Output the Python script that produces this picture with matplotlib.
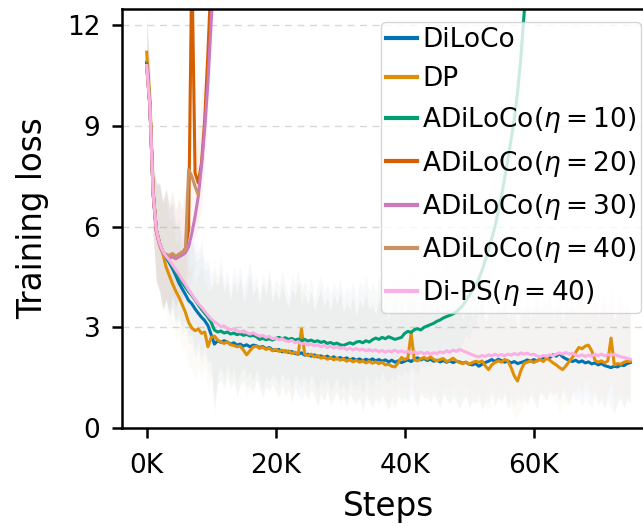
import numpy as np
import matplotlib
matplotlib.use("Agg")
import matplotlib.pyplot as plt
from matplotlib.ticker import FuncFormatter

# ---------------- data (loss sampled every 500 steps) ----------------
step_k = np.arange(0, 75.01, 0.5)          # thousand steps
steps = step_k * 1000

diloco = [
10.9, 9.6, 7.0, 5.9, 5.5, 5.25, 5.08, 4.93, 4.75, 4.55,
4.32, 4.15, 3.98, 3.8, 3.7, 3.55, 3.42, 3.3, 3.2, 3.05,
2.78, 2.5, 2.6, 2.55, 2.6, 2.56, 2.5, 2.54, 2.47, 2.5,
2.44, 2.48, 2.42, 2.47, 2.45, 2.4, 2.43, 2.36, 2.4, 2.33,
2.31, 2.34, 2.27, 2.3, 2.25, 2.28, 2.22, 2.2, 2.24, 2.17,
2.2, 2.14, 2.18, 2.12, 2.15, 2.1, 2.14, 2.08, 2.12, 2.06,
2.1, 2.05, 2.09, 2.03, 2.07, 2.02, 2.06, 2.0, 2.05, 2.01,
2.06, 2.0, 2.04, 1.99, 2.03, 1.97, 2.02, 1.96, 2.0, 1.95,
1.99, 2.03, 1.98, 2.05, 2.09, 2.03, 2.07, 2.01, 2.05, 1.99,
2.02, 1.97, 2.01, 1.96, 2.0, 1.95, 1.99, 1.97, 1.93, 1.96,
1.9, 1.88, 1.92, 1.84, 1.9, 1.95, 1.99, 2.04, 1.98, 2.05,
2.01, 1.96, 2.0, 1.94, 1.98, 1.92, 1.95, 1.98, 2.03, 1.99,
2.04, 2.0, 2.05, 2.09, 2.14, 2.1, 2.18, 2.14, 2.22, 2.12,
2.06, 2.02, 1.98, 2.02, 1.96, 2.0, 1.94, 1.97, 1.91, 1.94,
1.88, 1.92, 1.86, 1.83, 1.8, 1.84, 1.82, 1.88, 1.86, 1.92, 1.95]

dp = [
11.2, 9.8, 7.1, 5.85, 5.45, 5.2, 4.8, 4.55, 4.3, 4.08,
3.9, 3.68, 3.45, 3.15, 2.98, 2.9, 2.95, 2.82, 2.86, 2.42,
2.7, 2.74, 2.62, 2.56, 2.52, 2.57, 2.48, 2.46, 2.42, 2.44,
2.32, 2.18, 2.3, 2.41, 2.44, 2.37, 2.41, 2.34, 2.38, 2.3,
2.34, 2.28, 2.32, 2.26, 2.3, 2.22, 2.26, 2.2, 2.95, 2.2,
2.16, 2.2, 2.12, 2.16, 2.08, 2.12, 2.05, 2.1, 2.03, 2.08,
2.02, 2.06, 1.99, 2.04, 1.97, 2.02, 1.96, 2.0, 1.94, 1.99,
1.93, 1.97, 1.92, 1.96, 1.88, 1.9, 1.84, 1.82, 1.95, 2.1,
2.04, 2.08, 2.82, 2.03, 2.0, 2.06, 2.1, 2.05, 2.12, 2.04,
2.0, 2.04, 2.07, 1.98, 2.02, 2.08, 2.0, 1.95, 1.92, 1.96,
1.9, 1.95, 1.99, 1.96, 2.0, 1.85, 1.74, 1.88, 1.95, 2.0,
1.96, 2.04, 2.0, 1.8, 1.55, 1.4, 1.7, 1.92, 1.96, 2.0,
1.95, 2.0, 2.04, 1.98, 2.08, 2.02, 1.94, 1.88, 1.8, 1.74,
1.85, 1.98, 2.1, 2.25, 2.4, 2.36, 2.44, 2.47, 2.3, 2.02,
1.96, 2.0, 1.94, 2.0, 2.68, 1.88, 1.92, 1.9, 1.96, 1.99, 1.98]

adiloco_10 = [
10.85, 9.6, 7.0, 5.9, 5.5, 5.27, 5.1, 4.97, 4.83, 4.65,
4.48, 4.33, 4.2, 4.06, 3.95, 3.82, 3.67, 3.54, 3.42, 3.3,
3.15, 2.92, 2.86, 2.89, 2.83, 2.86, 2.8, 2.83, 2.78, 2.81,
2.76, 2.79, 2.74, 2.76, 2.72, 2.64, 2.67, 2.63, 2.66, 2.62,
2.67, 2.7, 2.66, 2.69, 2.64, 2.67, 2.62, 2.65, 2.6, 2.64,
2.59, 2.62, 2.57, 2.6, 2.55, 2.58, 2.52, 2.55, 2.5, 2.53,
2.48, 2.46, 2.5, 2.54, 2.5, 2.56, 2.58, 2.54, 2.6, 2.56,
2.63, 2.68, 2.64, 2.7, 2.66, 2.72, 2.68, 2.64, 2.67, 2.7,
2.82, 2.88, 2.85, 2.93, 2.96, 2.92, 3.0, 3.04, 3.08, 3.12,
3.18, 3.22, 3.28, 3.32, 3.36, 3.4, 3.46, 3.55, 3.65, 3.8,
3.95, 4.1, 4.25, 4.45, 4.7, 5.0, 5.3, 5.65, 6.0, 6.45,
6.9, 7.45, 8.0, 8.6, 9.2, 10.0, 11.0, 12.3, 13.6]

adiloco_20 = [10.8, 9.6, 7.0, 5.9, 5.5, 5.25, 5.15, 5.1, 5.18, 5.08,
              5.14, 5.2, 5.35, 5.9, 14.0, 7.6, 7.3, 7.9, 9.2, 11.2, 13.5]
adiloco_30 = [10.8, 9.55, 6.95, 5.85, 5.45, 5.22, 5.12, 5.06, 5.1, 5.04,
              5.1, 5.15, 5.22, 5.4, 5.8, 6.3, 6.9, 7.8, 8.9, 10.3, 12.1, 14.0]
adiloco_40 = [10.8, 9.6, 7.0, 5.88, 5.48, 5.24, 5.18, 5.14, 5.2, 5.12,
              5.18, 5.25, 5.3, 7.7, 7.5, 7.2, 6.95]

dips_40 = [
10.8, 9.6, 7.0, 5.9, 5.5, 5.28, 5.12, 5.0, 4.86, 4.72,
4.58, 4.42, 4.28, 4.12, 3.98, 3.84, 3.7, 3.6, 3.48, 3.36,
3.25, 3.16, 3.1, 3.02, 3.04, 2.96, 2.93, 2.96, 2.9, 2.86,
2.9, 2.84, 2.8, 2.84, 2.78, 2.74, 2.76, 2.7, 2.73, 2.66,
2.68, 2.63, 2.66, 2.6, 2.58, 2.61, 2.54, 2.57, 2.5, 2.53,
2.47, 2.5, 2.45, 2.48, 2.42, 2.46, 2.4, 2.44, 2.38, 2.42,
2.37, 2.4, 2.34, 2.38, 2.33, 2.37, 2.32, 2.35, 2.3, 2.34,
2.29, 2.33, 2.27, 2.31, 2.26, 2.3, 2.27, 2.32, 2.26, 2.3,
2.25, 2.29, 2.23, 2.27, 2.22, 2.26, 2.21, 2.25, 2.2, 2.24,
2.22, 2.27, 2.24, 2.3, 2.26, 2.32, 2.28, 2.34, 2.3, 2.26,
2.22, 2.18, 2.14, 2.12, 2.16, 2.13, 2.18, 2.15, 2.2, 2.16,
2.19, 2.15, 2.2, 2.17, 2.22, 2.18, 2.24, 2.2, 2.23, 2.18,
2.2, 2.15, 2.12, 2.16, 2.13, 2.18, 2.15, 2.2, 2.24, 2.2,
2.25, 2.2, 2.23, 2.18, 2.14, 2.18, 2.13, 2.17, 2.14, 2.2,
2.16, 2.2, 2.15, 2.19, 2.16, 2.2, 2.16, 2.12, 2.1, 2.08, 2.05]

# spread of the raw (unsmoothed) loss around each smoothed curve
band_hi = [
1.3, 1.0, 0.9, 1.4, 1.8, 1.5, 2.0, 1.6, 1.9, 1.4,
1.7, 1.3, 1.8, 1.5, 1.9, 1.4, 1.6, 2.0, 1.5, 1.7,
1.4, 1.9, 1.6, 2.1, 1.5, 1.8, 1.3, 1.9, 1.6, 2.0,
1.4, 1.7, 2.2, 1.5, 1.8, 1.3, 1.9, 1.6, 2.1, 1.4,
1.8, 1.5, 2.0, 1.6, 1.3, 1.9, 1.7, 2.1, 1.4, 1.8,
1.5, 1.9, 1.3, 1.7, 2.0, 1.5, 1.8, 1.4, 1.9, 1.6,
2.0, 1.4, 1.7, 1.5, 1.9, 1.3, 1.8, 1.6, 2.0, 1.5,
1.7, 1.4, 1.9, 1.6, 1.8, 1.3, 1.7, 2.0, 1.5, 1.8,
1.4, 1.7, 1.5, 1.9, 1.3, 1.6, 1.8, 1.4, 1.7, 1.5,
1.9, 1.3, 1.6, 1.8, 1.4, 1.7, 1.5, 1.9, 1.3, 1.6,
1.8, 1.4, 1.7, 1.5, 1.9, 1.3, 1.6, 1.8, 1.4, 1.7,
1.5, 1.8, 1.3, 1.6, 1.9, 1.4, 1.7, 1.5, 1.8, 1.3,
1.6, 1.9, 1.4, 1.7, 1.5, 1.8, 1.3, 1.6, 1.9, 1.4,
1.7, 1.5, 1.8, 1.3, 1.6, 1.9, 1.4, 1.7, 1.5, 1.8,
1.4, 1.7, 1.9, 1.5, 1.8, 1.4, 1.6, 1.9, 1.5, 1.7, 1.4]
band_lo = [
0.5, 0.8, 1.2, 1.5, 1.4, 1.7, 1.3, 1.6, 1.2, 1.5,
1.1, 1.4, 1.0, 1.3, 1.2, 1.5, 1.1, 1.4, 1.0, 1.3,
1.2, 2.1, 1.3, 1.1, 1.4, 1.0, 1.3, 1.1, 1.5, 1.2,
1.0, 1.3, 1.1, 1.4, 1.0, 1.2, 1.5, 1.1, 1.3, 1.0,
1.2, 1.4, 1.0, 1.3, 1.1, 1.5, 1.0, 1.2, 1.4, 1.1,
1.3, 1.0, 1.2, 1.5, 1.1, 1.3, 1.0, 1.4, 1.2, 1.0,
1.3, 1.1, 1.4, 1.0, 1.2, 1.3, 1.1, 1.5, 1.0, 1.2,
1.4, 1.1, 1.3, 1.0, 1.2, 1.4, 1.1, 1.3, 1.0, 1.2,
1.1, 1.3, 1.0, 1.2, 1.4, 1.0, 1.2, 1.1, 1.3, 1.0,
1.2, 1.4, 1.0, 1.1, 1.3, 1.0, 1.2, 1.4, 1.1, 1.0,
1.3, 1.1, 1.2, 1.0, 1.4, 1.1, 1.2, 1.0, 1.3, 1.1,
1.2, 1.0, 1.4, 1.1, 1.3, 1.0, 1.2, 1.1, 1.3, 1.0,
1.2, 1.4, 1.0, 1.1, 1.3, 1.0, 1.2, 1.1, 1.4, 1.0,
1.1, 1.3, 1.0, 1.2, 1.1, 1.4, 1.0, 1.2, 1.3, 1.0,
1.2, 1.1, 1.3, 1.0, 1.2, 1.4, 1.1, 1.0, 1.3, 1.1, 1.2]

labels = ["DiLoCo", "DP", r"ADiLoCo($\eta=10$)", r"ADiLoCo($\eta=20$)",
          r"ADiLoCo($\eta=30$)", r"ADiLoCo($\eta=40$)", r"Di-PS($\eta=40$)"]
series = [diloco, dp, adiloco_10, adiloco_20, adiloco_30, adiloco_40, dips_40]
colors = ["#0173b2", "#de8f05", "#029e73", "#d55e00", "#cc78bc", "#ca9161", "#fbafe4"]

x_ticks = [0, 20000, 40000, 60000]
y_ticks = [0, 3, 6, 9, 12]

# ---------------- figure ----------------
fig = plt.figure(figsize=(6.43, 5.26), dpi=100)
ax = fig.add_axes([122.5 / 643, 98 / 526, (654.6 - 122.5) / 643, (428 - 8.5) / 526])

for y, c in zip(series, colors):
    y = np.asarray(y)
    n = len(y)
    ax.fill_between(steps[:n], y - np.asarray(band_lo[:n]), y + np.asarray(band_hi[:n]),
                    color=c, alpha=0.035, lw=0)

for y, c, lab in zip(series, colors, labels):
    n = len(y)
    ax.plot(steps[:n], y, color=c, lw=2.2, label=lab)

ax.set_xlim(-3750, 78750)
ax.set_ylim(0, 12.5)
ax.set_xticks(x_ticks)
ax.xaxis.set_major_formatter(FuncFormatter(lambda v, p: f"{int(round(v / 1000))}K"))
ax.set_yticks(y_ticks)
ax.grid(axis="y", color="#d8d8d8", ls=(0, (5, 4)), lw=1.0)
ax.set_axisbelow(True)

for s in ["left", "bottom", "top", "right"]:
    ax.spines[s].set_linewidth(1.8)
    ax.spines[s].set_color("black")
ax.tick_params(axis="y", which="major", labelsize=19, length=7, width=1.8, pad=9,
               direction="out")
ax.tick_params(axis="x", which="major", labelsize=19, length=7, width=1.8, pad=11,
               direction="out")
ax.tick_params(top=False, right=False)

ax.set_xlabel("Steps", fontsize=23.5, labelpad=8)
ax.set_ylabel("Training loss", fontsize=23.5, labelpad=13)

leg = ax.legend(loc="upper right", fontsize=19, handlelength=1.15, handletextpad=0.2,
                borderpad=0.2, labelspacing=0.5, borderaxespad=0.5, framealpha=0.8,
                fancybox=True)
leg.get_frame().set_edgecolor("#cccccc")
for l in leg.get_lines():
    l.set_linewidth(3)

fig.savefig("out.png", dpi=100)
